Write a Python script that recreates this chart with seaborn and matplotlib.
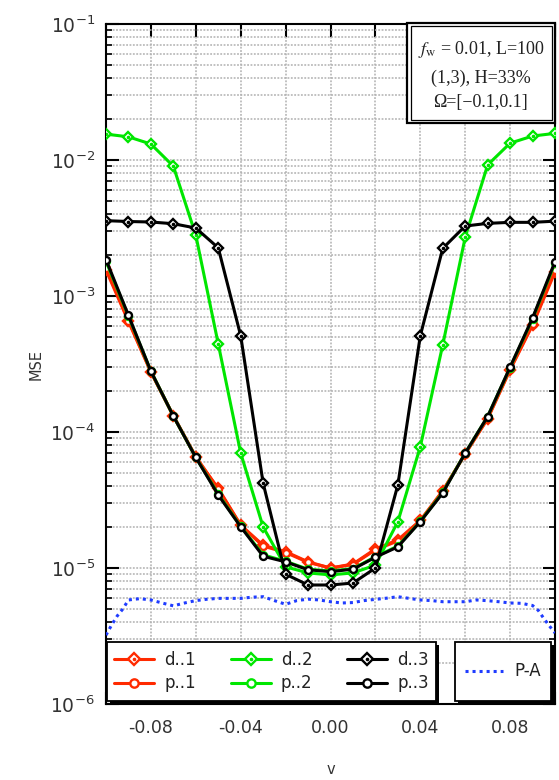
import numpy as np
import pandas as pd
import matplotlib
matplotlib.use("Agg")
import matplotlib.pyplot as plt
import seaborn as sns
from matplotlib.lines import Line2D
from matplotlib.patches import Rectangle
from matplotlib.legend_handler import HandlerTuple
from matplotlib.ticker import LogLocator, NullFormatter, FixedLocator, FixedFormatter

# ---------------- data ----------------
nu = [-0.10, -0.09, -0.08, -0.07, -0.06, -0.05, -0.04, -0.03, -0.02, -0.01, 0.00,
      0.01, 0.02, 0.03, 0.04, 0.05, 0.06, 0.07, 0.08, 0.09, 0.10]

d1 = [1.55e-3, 6.5e-4, 2.75e-4, 1.31e-4, 6.5e-5, 3.85e-5, 2.07e-5, 1.47e-5, 1.32e-5, 1.11e-5, 1.00e-5,
      1.07e-5, 1.38e-5, 1.61e-5, 2.24e-5, 3.7e-5, 6.9e-5, 1.25e-4, 2.86e-4, 6.1e-4, 1.50e-3]
p1 = [1.60e-3, 6.6e-4, 2.78e-4, 1.32e-4, 6.6e-5, 3.8e-5, 2.05e-5, 1.45e-5, 1.30e-5, 1.10e-5, 1.00e-5,
      1.06e-5, 1.36e-5, 1.58e-5, 2.22e-5, 3.68e-5, 6.9e-5, 1.26e-4, 2.9e-4, 6.2e-4, 1.55e-3]
d2 = [1.55e-2, 1.48e-2, 1.31e-2, 9.0e-3, 2.8e-3, 4.44e-4, 7.0e-5, 2.0e-5, 1.02e-5, 9.2e-6, 8.9e-6,
      9.2e-6, 1.05e-5, 2.19e-5, 7.8e-5, 4.37e-4, 2.7e-3, 9.2e-3, 1.33e-2, 1.50e-2, 1.57e-2]
p2 = [1.80e-3, 7.1e-4, 2.8e-4, 1.31e-4, 6.5e-5, 3.5e-5, 2.02e-5, 1.25e-5, 1.12e-5, 9.8e-6, 9.5e-6,
      9.9e-6, 1.21e-5, 1.45e-5, 2.2e-5, 3.6e-5, 7.0e-5, 1.30e-4, 2.98e-4, 6.8e-4, 1.75e-3]
d3 = [3.58e-3, 3.53e-3, 3.50e-3, 3.40e-3, 3.16e-3, 2.26e-3, 5.1e-4, 4.2e-5, 9.0e-6, 7.5e-6, 7.5e-6,
      7.75e-6, 1.0e-5, 4.08e-5, 5.1e-4, 2.24e-3, 3.27e-3, 3.42e-3, 3.48e-3, 3.48e-3, 3.55e-3]
p3 = [1.85e-3, 7.2e-4, 2.8e-4, 1.31e-4, 6.5e-5, 3.44e-5, 2.01e-5, 1.22e-5, 1.11e-5, 9.7e-6, 9.4e-6,
      9.8e-6, 1.20e-5, 1.43e-5, 2.19e-5, 3.56e-5, 7.0e-5, 1.30e-4, 3.0e-4, 6.9e-4, 1.79e-3]

nu_pa = [-0.100, -0.0975, -0.095, -0.0925, -0.090, -0.085, -0.080, -0.075, -0.070, -0.065, -0.060,
         -0.055, -0.050, -0.045, -0.040, -0.035, -0.030, -0.025, -0.020, -0.015, -0.010, -0.005,
         0.000, 0.005, 0.010, 0.015, 0.020, 0.025, 0.030, 0.035, 0.040, 0.045, 0.050, 0.055,
         0.060, 0.065, 0.070, 0.075, 0.080, 0.085, 0.090, 0.0925, 0.095, 0.0975, 0.100]
pa = [3.21e-6, 3.81e-6, 4.44e-6, 5.0e-6, 5.82e-6, 5.95e-6, 5.82e-6, 5.53e-6, 5.27e-6, 5.53e-6, 5.76e-6,
      5.89e-6, 5.98e-6, 5.98e-6, 5.98e-6, 6.1e-6, 6.15e-6, 5.76e-6, 5.41e-6, 5.76e-6, 5.9e-6, 5.82e-6,
      5.65e-6, 5.53e-6, 5.57e-6, 5.76e-6, 5.88e-6, 6.0e-6, 6.15e-6, 5.98e-6, 5.82e-6, 5.76e-6, 5.65e-6, 5.65e-6,
      5.65e-6, 5.82e-6, 5.75e-6, 5.65e-6, 5.53e-6, 5.5e-6, 5.3e-6, 4.89e-6, 4.26e-6, 3.75e-6, 3.33e-6]

series_names = ["d..1", "p..1", "d..2", "p..2", "d..3", "p..3"]
pa_name = "P-A"
xtick_values = [-0.10, -0.08, -0.06, -0.04, -0.02, 0.00, 0.02, 0.04, 0.06, 0.08, 0.10]
xtick_labels = ["", "-0.08", "", "-0.04", "", "0.00", "", "0.04", "", "0.08", ""]
ytick_values = [1e-6, 1e-5, 1e-4, 1e-3, 1e-2, 1e-1]
ytick_labels = [r"$10^{-6}$", r"$10^{-5}$", r"$10^{-4}$", r"$10^{-3}$", r"$10^{-2}$", r"$10^{-1}$"]
info_lines = [r"$f_{\rm w}$ = 0.01, L=100", "(1,3), H=33%", "Ω=[−0.1,0.1]"]

# ---------------- style ----------------
sns.set_style("white")
plt.rcParams["font.family"] = ["DejaVu Sans"]

RED = "#ff2a00"
GREEN = "#00e600"
BLACK = "#000000"
BLUE = "#1f3cff"

fig = plt.figure(figsize=(5.59, 7.80), dpi=100)
W, H = 559, 780
ax = fig.add_axes([106 / W, 76 / H, 449 / W, 680 / H])

df = pd.DataFrame({"nu": nu, "d..1": d1, "p..1": p1, "d..2": d2, "p..2": p2, "d..3": d3, "p..3": p3})

styles = {
    "d..1": (RED, "D"), "p..1": (RED, "o"),
    "d..2": (GREEN, "D"), "p..2": (GREEN, "o"),
    "d..3": (BLACK, "D"), "p..3": (BLACK, "o"),
}
LW = 2.2
for i, name in enumerate(series_names):
    col, mk = styles[name]
    ms = 5.6 if mk == "D" else 5.0
    sns.lineplot(data=df, x="nu", y=name, ax=ax, color=col, lw=LW, marker=mk, ms=ms,
                 mfc="white", mec=col, mew=1.7, estimator=None, sort=False, legend=False,
                 zorder=3 + i * 0.1)
    if mk == "D":
        ax.plot(df["nu"], df[name], ls="none", marker="o", ms=1.6, color=col, zorder=3 + i * 0.1 + 0.05)

sns.lineplot(x=nu_pa, y=pa, ax=ax, color=BLUE, lw=2.2, dashes=False, estimator=None, sort=False,
             legend=False, zorder=3)
ax.lines[-1].set_linestyle((0, (1, 1.3)))

# ---------------- axes ----------------
ax.set_yscale("log")
ax.set_xlim(-0.1, 0.1)
ax.set_ylim(1e-6, 1e-1)
ax.xaxis.set_major_locator(FixedLocator(xtick_values))
ax.xaxis.set_major_formatter(FixedFormatter(xtick_labels))
ax.yaxis.set_major_locator(FixedLocator(ytick_values))
ax.yaxis.set_major_formatter(FixedFormatter(ytick_labels))
ax.yaxis.set_minor_locator(LogLocator(base=10, subs=np.arange(2, 10)))
ax.yaxis.set_minor_formatter(NullFormatter())

ax.grid(True, which="major", axis="x", ls=(0, (1.2, 1.0)), color="#b0b0b0", lw=1.1)
ax.grid(True, which="both", axis="y", ls=(0, (1.2, 1.0)), color="#b0b0b0", lw=1.1)
ax.set_axisbelow(True)

ax.tick_params(which="both", direction="in", top=True, right=True, bottom=True, left=True)
ax.tick_params(which="major", length=9, width=1.5, colors="black")
ax.tick_params(which="minor", length=4.5, width=1.2, colors="black")
ax.tick_params(axis="x", which="major", pad=11, labelsize=12.5, labelcolor="#333333")
ax.tick_params(axis="y", which="major", pad=8, labelsize=13.5, labelcolor="#333333")
for s in ax.spines.values():
    s.set_color("black")
    s.set_linewidth(1.5)

ax.set_xlabel("v", fontsize=10.5, color="#333333")
ax.set_ylabel("MSE", fontsize=10.5, color="#333333")
ax.xaxis.set_label_coords(0.5, -0.085)
ax.yaxis.set_label_coords(-0.14, 0.5)

# ---------------- info box ----------------
px = lambda v: v / 449.0
py = lambda v: v / 680.0
bx0, bx1 = px(407 - 106), 1.0
by1, by0 = py(704 - 23), py(704 - 123)
ax.add_patch(Rectangle((bx0, by0), bx1 - bx0, by1 - by0, transform=ax.transAxes,
                       facecolor="white", edgecolor="black", lw=1.6, zorder=6, clip_on=False))
ins = 3.5
ax.add_patch(Rectangle((bx0 + px(ins), by0 + py(ins)), bx1 - bx0 - 2 * px(ins), by1 - by0 - 2 * py(ins),
                       transform=ax.transAxes, facecolor="none", edgecolor="black", lw=0.9, zorder=6.1))
cx = (bx0 + bx1) / 2
for yy, t in zip([704 - 50, 704 - 78, 704 - 103], info_lines):
    ax.text(cx, py(yy), t, transform=ax.transAxes, ha="center", va="center", fontsize=13,
            family="Liberation Serif", math_fontfamily="stix", color="#222222", zorder=7)

# ---------------- legends ----------------
def legend_box(x0, x1, y0, y1):
    sh = 2.5
    ax.add_patch(Rectangle((px(x0 - 106 + sh), py(704 - y1 - sh)), px(x1 - x0), py(y1 - y0),
                           transform=ax.transAxes, facecolor="black", edgecolor="black", lw=0, zorder=6))
    ax.add_patch(Rectangle((px(x0 - 106), py(704 - y1)), px(x1 - x0), py(y1 - y0),
                           transform=ax.transAxes, facecolor="white", edgecolor="black", lw=1.3, zorder=6.1))
    return px((x0 + x1) / 2 - 106), py(704 - (y0 + y1) / 2)

handles = []
for name in series_names:
    col, mk = styles[name]
    if mk == "D":
        h1 = Line2D([], [], color=col, lw=LW, marker="D", ms=6.2, mfc="white", mec=col, mew=1.7)
        h2 = Line2D([], [], ls="none", marker="o", ms=1.6, color=col)
        handles.append((h1, h2))
    else:
        handles.append(Line2D([], [], color=col, lw=LW, marker="o", ms=6.0, mfc="white", mec=col, mew=1.7))

c1 = legend_box(107, 436, 642, 701)
leg1 = ax.legend(handles, series_names, ncol=3, loc="center", bbox_to_anchor=c1,
                 bbox_transform=ax.transAxes, frameon=False, fontsize=12, handlelength=2.4,
                 handletextpad=0.6, columnspacing=2.1, labelspacing=0.35,
                 handler_map={tuple: HandlerTuple(ndivide=1, pad=0)})
leg1.set_zorder(7)
for t in leg1.get_texts():
    t.set_color("#222222")
ax.add_artist(leg1)

c2 = legend_box(455, 551, 642, 701)
pa_handle = Line2D([], [], color=BLUE, lw=2.2, ls=(0, (1, 1.3)))
leg2 = ax.legend([pa_handle], [pa_name], loc="center", bbox_to_anchor=c2, bbox_transform=ax.transAxes,
                 frameon=False, fontsize=12, handlelength=2.3, handletextpad=0.7)
leg2.set_zorder(7)
for t in leg2.get_texts():
    t.set_color("#222222")

fig.savefig("out.png", dpi=100)
